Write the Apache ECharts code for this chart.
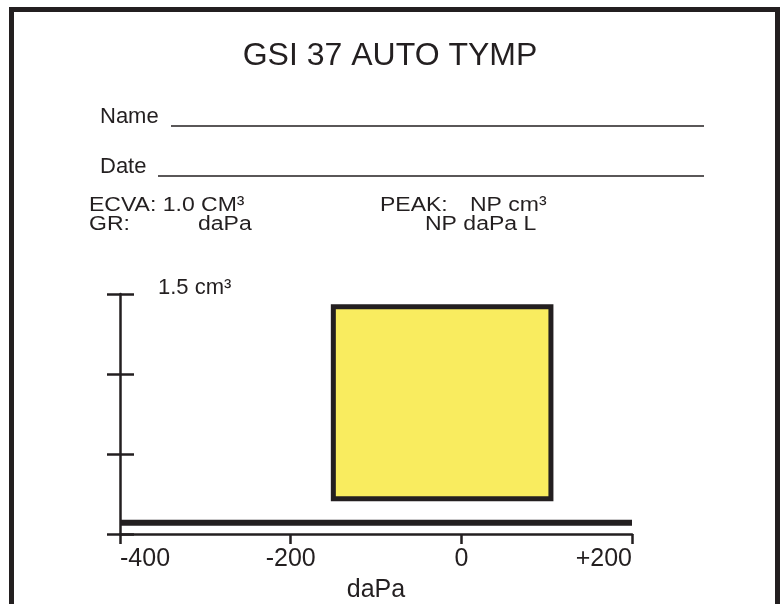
<!DOCTYPE html>
<html>
<head>
<meta charset="utf-8">
<script src="https://cdn.jsdelivr.net/npm/echarts@6/dist/echarts.min.js"></script>
<style>
html,body{margin:0;padding:0;background:#fff;}
#c{width:783px;height:604px;}
</style>
</head>
<body>
<div id="c"></div>
<script>
// ---- data ----
var titleText = 'GSI 37 AUTO TYMP';
var xTickValues = [-400, -200, 0, 200];
var xTickLabels = ['-400', '-200', '0', '+200'];
var yTickValues = [0, 0.5, 1.0, 1.5];
var yTickLabels = ['', '', '', '1.5 cm\u00B3'];
var xAxisName = 'daPa';
// normal region box (daPa, cm3)
var boxX = [-150, 105];
var boxY = [0.22, 1.42];
// measured tympanogram trace (flat, no peak)
var traceX = [-400, 200];
var traceY = [0.07, 0.07];
var infoTexts = {
  ecva: 'ECVA: 1.0 CM\u00B3',
  gr: 'GR:',
  grUnit: 'daPa',
  peak: 'PEAK:',
  peakVal: 'NP cm\u00B3',
  peakPress: 'NP daPa L'
};

var INK = '#231F20';
var FONT = '"Liberation Sans", Arial, Helvetica, sans-serif';

var chart = echarts.init(document.getElementById('c'), null, {renderer: 'canvas'});

function txt(x, y, s, size, align, sx) {
  return {
    type: 'text', x: x, y: y, silent: true, scaleX: sx || 1,
    style: {text: s, fill: INK, font: size + 'px ' + FONT, align: align || 'left', verticalAlign: 'middle'}
  };
}

var traceData = traceX.map(function (v, i) { return [v, traceY[i]]; });

var option = {
  animation: false,
  backgroundColor: '#ffffff',
  textStyle: {fontFamily: FONT, color: INK},
  grid: {left: 120, right: 151, top: 294, bottom: 70, containLabel: false},
  xAxis: {
    type: 'value', min: xTickValues[0], max: xTickValues[xTickValues.length - 1], interval: 200,
    axisLine: {show: true, onZero: false, lineStyle: {color: INK, width: 2.5}},
    axisTick: {show: true, length: 10, lineStyle: {color: INK, width: 2.5}},
    splitLine: {show: false},
    axisLabel: {
      color: INK, fontSize: 25, fontFamily: FONT, margin: 13,
      alignMinLabel: 'left', alignMaxLabel: 'right',
      formatter: function (v) { var i = xTickValues.indexOf(v); return i >= 0 ? xTickLabels[i] : ''; }
    },
    name: xAxisName, nameLocation: 'middle', nameGap: 44,
    nameTextStyle: {color: INK, fontSize: 25, fontFamily: FONT}
  },
  yAxis: [{
    type: 'value', min: 0, max: 1.5, interval: 0.5,
    axisLine: {show: true, onZero: false, lineStyle: {color: INK, width: 2.5}},
    axisTick: {show: true, inside: true, length: 14, lineStyle: {color: INK, width: 2.5}},
    splitLine: {show: false},
    axisLabel: {
      inside: true, margin: 38, color: INK, fontSize: 22, fontFamily: FONT,
      verticalAlign: 'middle',
      rich: {a: {color: INK, fontSize: 22, fontFamily: FONT, padding: [0, 0, 13, 0]}},
      formatter: function (v) {
        var i = yTickValues.indexOf(v);
        return (i >= 0 && yTickLabels[i]) ? '{a|' + yTickLabels[i] + '}' : '';
      }
    }
  }, {
    type: 'value', min: 0, max: 1.5, interval: 0.5, position: 'left',
    axisLine: {show: false, onZero: false},
    axisTick: {show: true, inside: false, length: 13, lineStyle: {color: INK, width: 2.5}},
    splitLine: {show: false},
    axisLabel: {show: false}
  }],
  series: [{
    type: 'line',
    data: traceData,
    symbol: 'none',
    lineStyle: {color: INK, width: 6, cap: 'butt'},
    z: 3,
    markArea: {
      silent: true,
      itemStyle: {color: '#F9EC5F', borderColor: INK, borderWidth: 5, opacity: 1},
      label: {show: false},
      data: [[{coord: [boxX[0], boxY[1]]}, {coord: [boxX[1], boxY[0]]}]]
    }
  }],
  graphic: [
    {type: 'rect', silent: true, shape: {x: 11.5, y: 9.5, width: 766, height: 640},
      style: {fill: null, stroke: INK, lineWidth: 5}},
    txt(390, 56, titleText, 32, 'center'),
    txt(100, 117, 'Name', 22),
    {type: 'line', silent: true, shape: {x1: 171, y1: 126, x2: 704, y2: 126}, style: {stroke: INK, lineWidth: 1.5}},
    txt(100, 166.5, 'Date', 22),
    {type: 'line', silent: true, shape: {x1: 158, y1: 176, x2: 704, y2: 176}, style: {stroke: INK, lineWidth: 1.5}},
    txt(89, 205, infoTexts.ecva, 20, 'left', 1.15),
    txt(89, 224, infoTexts.gr, 20, 'left', 1.15),
    txt(198, 224, infoTexts.grUnit, 20, 'left', 1.15),
    txt(380, 205, infoTexts.peak, 20, 'left', 1.15),
    txt(470, 205, infoTexts.peakVal, 20, 'left', 1.15),
    txt(425, 224, infoTexts.peakPress, 20, 'left', 1.15)
  ]
};
chart.setOption(option);
</script>
</body>
</html>
